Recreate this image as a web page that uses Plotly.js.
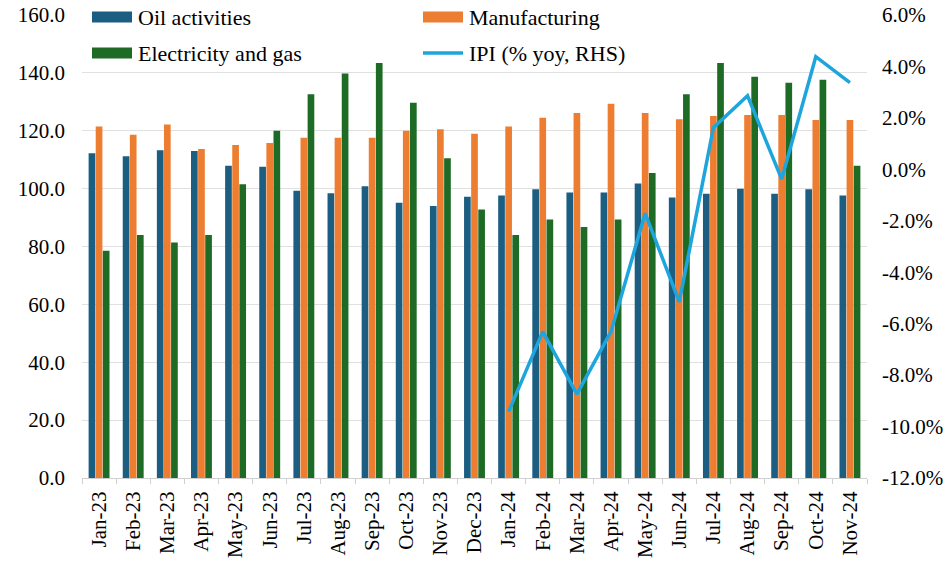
<!DOCTYPE html>
<html>
<head>
<meta charset="utf-8">
<script src="https://cdn.plot.ly/plotly-3.0.1.min.js"></script>
<style>
  html, body { margin: 0; padding: 0; background: #fff; }
  #chart { width: 951px; height: 562px; }
</style>
</head>
<body>
<div id="chart"></div>
<script>
// categories
var months = ['Jan-23', 'Feb-23', 'Mar-23', 'Apr-23', 'May-23', 'Jun-23', 'Jul-23', 'Aug-23',
	'Sep-23', 'Oct-23', 'Nov-23', 'Dec-23', 'Jan-24', 'Feb-24', 'Mar-24', 'Apr-24', 'May-24',
	'Jun-24', 'Jul-24', 'Aug-24', 'Sep-24', 'Oct-24', 'Nov-24'];

// index levels (LHS)
var oil = [112.2, 111.2, 113.3, 113.0, 107.9, 107.6, 99.3, 98.4, 100.8, 95.1, 94.0, 97.2,
	97.6, 99.8, 98.7, 98.7, 101.8, 96.9, 98.2, 100.0, 98.2, 99.8, 97.6];
var manufacturing = [121.5, 118.6, 122.2, 113.7, 115.1, 115.8, 117.6, 117.6, 117.6, 120.0, 120.5, 119.0,
	121.5, 124.5, 126.1, 129.3, 126.1, 124.0, 125.1, 125.4, 125.4, 123.7, 123.7];
var electricity = [78.5, 84.0, 81.4, 84.0, 101.5, 120.0, 132.6, 139.8, 143.4, 129.7, 110.5, 92.8,
	84.0, 89.3, 86.7, 89.3, 105.4, 132.6, 143.4, 138.7, 136.6, 137.6, 107.9];

// IPI % yoy (RHS), only from Jan-24
var ipiMonths = months.slice(12);
var ipi = [-9.42, -6.31, -8.74, -6.31, -1.71, -5.15, 1.62, 2.86, -0.38, 4.38, 3.37];

// right axis ticks (plain hyphen minus as in the original)
var rhsTicks = [-12, -10, -8, -6, -4, -2, 0, 2, 4, 6];
var rhsLabels = ['-12.0%', '-10.0%', '-8.0%', '-6.0%', '-4.0%', '-2.0%', '0.0%', '2.0%', '4.0%', '6.0%'];

var names = ['Oil activities', 'Manufacturing', 'Electricity and gas', 'IPI (% yoy, RHS)'];
var colors = ['#1b5e82', '#ed7d31', '#1e6b26', '#1ea5dd'];

var FONT = 'Liberation Serif';
var W = 951, H = 562;
var M = { l: 82, r: 84, t: 15, b: 84 };

// pixel -> paper helpers for the hand made legend
function px(x) { return (x - M.l) / (W - M.l - M.r); }
function py(y) { return (H - M.b - y) / (H - M.t - M.b); }

var data = [
	{ x: months, y: oil, name: names[0], type: 'bar', marker: { color: colors[0] } },
	{ x: months, y: manufacturing, name: names[1], type: 'bar', marker: { color: colors[1] } },
	{ x: months, y: electricity, name: names[2], type: 'bar', marker: { color: colors[2] } },
	{
		x: ipiMonths, y: ipi, name: names[3], type: 'scatter', mode: 'lines',
		yaxis: 'y2', line: { color: colors[3], width: 3.5 }
	}
];

// legend: two columns, swatch 40x11 px
var cols = [92, 423];
var rows = [17, 53];
var shapes = [], annotations = [];
for (var i = 0; i < 4; i++) {
	var cx = cols[i % 2], cy = rows[Math.floor(i / 2)];
	if (i < 3) {
		shapes.push({
			type: 'rect', xref: 'paper', yref: 'paper',
			x0: px(cx), x1: px(cx + 40), y0: py(cy + 5.5), y1: py(cy - 5.5),
			fillcolor: colors[i], line: { width: 0 }
		});
	} else {
		shapes.push({
			type: 'line', xref: 'paper', yref: 'paper',
			x0: px(cx), x1: px(cx + 40), y0: py(cy), y1: py(cy),
			line: { color: colors[i], width: 3.5 }
		});
	}
	annotations.push({
		xref: 'paper', yref: 'paper', x: px(cx + 44), y: py(cy),
		xanchor: 'left', yanchor: 'middle', showarrow: false,
		text: names[i], font: { family: FONT, size: 22, color: '#000' }
	});
}

var layout = {
	width: W,
	height: H,
	margin: M,
	paper_bgcolor: '#fff',
	plot_bgcolor: '#fff',
	font: { family: FONT, size: 22, color: '#000' },
	barmode: 'group',
	bargap: 0.375,
	bargroupgap: 0.06,
	showlegend: false,
	shapes: shapes,
	annotations: annotations,
	xaxis: {
		type: 'category',
		tickangle: -90,
		ticks: 'outside',
		tickson: 'boundaries',
		ticklen: 5,
		tickcolor: '#d0d0d0',
		showline: true,
		linecolor: '#d0d0d0',
		showgrid: false,
		ticklabelstandoff: 4,
		tickfont: { family: FONT, size: 21 }
	},
	yaxis: {
		range: [0, 160],
		dtick: 20,
		tickformat: '.1f',
		showgrid: true,
		gridcolor: '#e0e0e0',
		zeroline: false,
		showline: false,
		ticklabelstandoff: 16,
		tickfont: { family: FONT, size: 21 }
	},
	yaxis2: {
		overlaying: 'y',
		side: 'right',
		range: [-12, 6],
		tickvals: rhsTicks,
		ticktext: rhsLabels,
		showgrid: false,
		zeroline: false,
		showline: false,
		ticklabelstandoff: 14,
		tickfont: { family: FONT, size: 21 }
	}
};

Plotly.newPlot('chart', data, layout, { displayModeBar: false, staticPlot: true });
</script>
</body>
</html>
